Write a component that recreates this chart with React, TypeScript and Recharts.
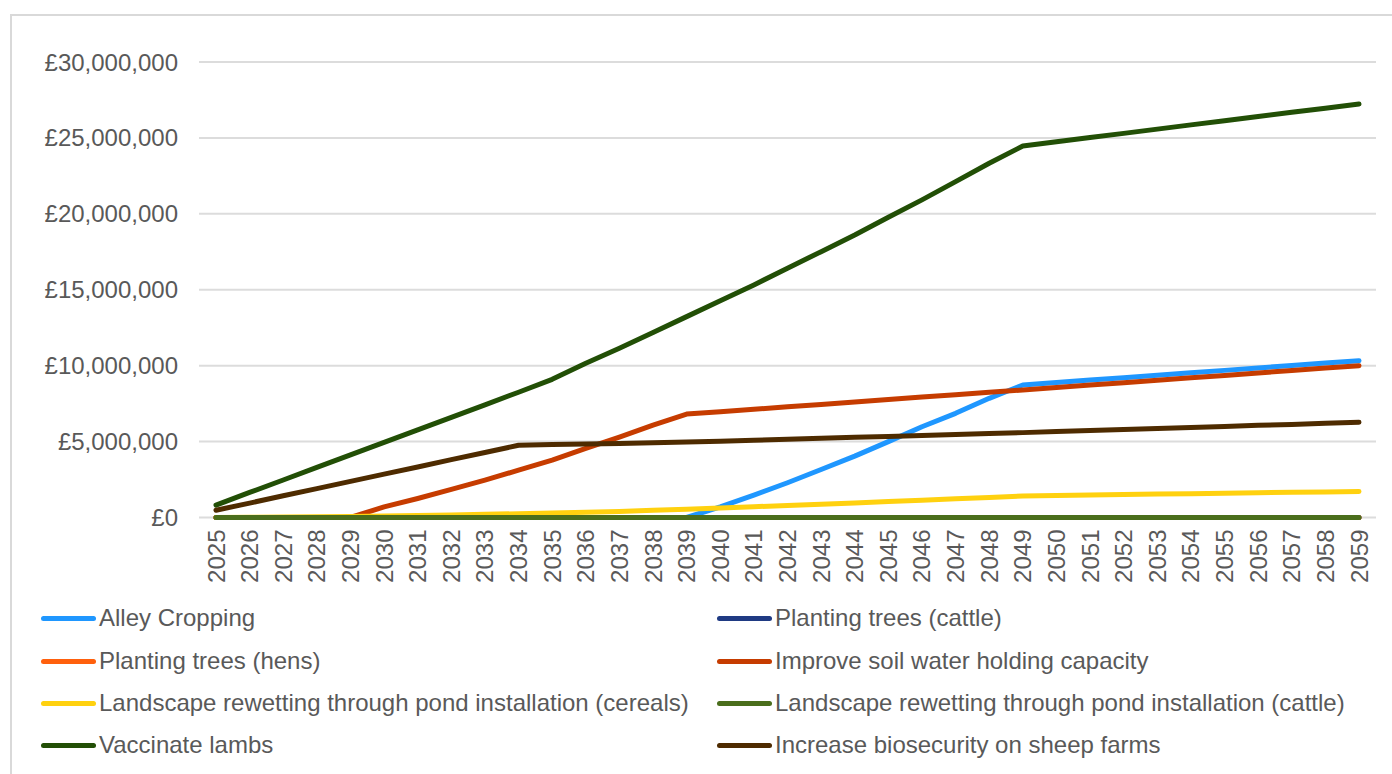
import { CartesianGrid, Line, LineChart, XAxis, YAxis } from 'recharts'

// Annual values in £ millions
const years = [
  '2025', '2026', '2027', '2028', '2029', '2030', '2031', '2032', '2033', '2034',
  '2035', '2036', '2037', '2038', '2039', '2040', '2041', '2042', '2043', '2044',
  '2045', '2046', '2047', '2048', '2049', '2050', '2051', '2052', '2053', '2054',
  '2055', '2056', '2057', '2058', '2059',
]

const alleyCropping = [
  0, 0, 0, 0, 0, 0, 0, 0, 0, 0,
  0, 0, 0, 0, 0, 0.7, 1.47, 2.29, 3.16, 4.04,
  5.0, 5.98, 6.86, 7.85, 8.73, 8.89, 9.05, 9.21, 9.37, 9.53,
  9.69, 9.85, 10.01, 10.17, 10.33,
]

const treesCattle = [
  0, 0, 0, 0, 0, 0, 0, 0, 0, 0,
  0, 0, 0, 0, 0, 0, 0, 0, 0, 0,
  0, 0, 0, 0, 0, 0, 0, 0, 0, 0,
  0, 0, 0, 0, 0,
]

const treesHens = [
  0, 0, 0, 0, 0, 0, 0, 0, 0, 0,
  0, 0, 0, 0, 0, 0, 0, 0, 0, 0,
  0, 0, 0, 0, 0, 0, 0, 0, 0, 0,
  0, 0, 0, 0, 0,
]

const soilWater = [
  0, 0, 0, 0, 0, 0.7, 1.25, 1.85, 2.46, 3.12,
  3.78, 4.55, 5.3, 6.09, 6.81, 6.97, 7.13, 7.29, 7.45, 7.61,
  7.77, 7.93, 8.09, 8.25, 8.4, 8.56, 8.72, 8.88, 9.04, 9.2,
  9.36, 9.52, 9.68, 9.84, 10.0,
]

const pondCereals = [
  0, 0.01, 0.03, 0.05, 0.07, 0.1, 0.13, 0.17, 0.21, 0.25,
  0.3, 0.35, 0.4, 0.47, 0.55, 0.63, 0.71, 0.79, 0.87, 0.96,
  1.05, 1.14, 1.23, 1.32, 1.42, 1.45, 1.48, 1.51, 1.54, 1.57,
  1.6, 1.63, 1.66, 1.68, 1.71,
]

const pondCattle = [
  0, 0, 0, 0, 0, 0, 0, 0, 0, 0,
  0, 0, 0, 0, 0, 0, 0, 0, 0, 0,
  0, 0, 0, 0, 0, 0, 0, 0, 0, 0,
  0, 0, 0, 0, 0,
]

const vaccinateLambs = [
  0.82, 1.65, 2.47, 3.3, 4.12, 4.95, 5.77, 6.6, 7.42, 8.25,
  9.1, 10.16, 11.15, 12.18, 13.23, 14.28, 15.32, 16.42, 17.51, 18.61,
  19.78, 20.92, 22.12, 23.33, 24.47, 24.75, 25.03, 25.3, 25.58, 25.86,
  26.13, 26.41, 26.69, 26.96, 27.23,
]

const sheepBiosecurity = [
  0.48, 0.95, 1.43, 1.9, 2.38, 2.86, 3.33, 3.81, 4.28, 4.76,
  4.8, 4.84, 4.88, 4.93, 4.97, 5.03, 5.09, 5.15, 5.22, 5.28,
  5.34, 5.4, 5.47, 5.53, 5.59, 5.66, 5.73, 5.8, 5.86, 5.93,
  6.0, 6.07, 6.13, 6.2, 6.27,
]

const yTicks = [0, 5000000, 10000000, 15000000, 20000000, 25000000, 30000000]

const series = [
  { key: 'alley', name: 'Alley Cropping', color: '#1F97FF', values: alleyCropping },
  { key: 'treesCattle', name: 'Planting trees (cattle)', color: '#1F3A83', values: treesCattle },
  { key: 'treesHens', name: 'Planting trees (hens)', color: '#FF600D', values: treesHens },
  { key: 'soil', name: 'Improve soil water holding capacity', color: '#C63C00', values: soilWater },
  { key: 'pondCereals', name: 'Landscape rewetting through pond installation (cereals)', color: '#FFD10F', values: pondCereals },
  { key: 'pondCattle', name: 'Landscape rewetting through pond installation (cattle)', color: '#4A6E1C', values: pondCattle },
  { key: 'lambs', name: 'Vaccinate lambs', color: '#224F06', values: vaccinateLambs },
  { key: 'biosecurity', name: 'Increase biosecurity on sheep farms', color: '#4E2B00', values: sheepBiosecurity },
]

const data = years.map((year, i) => {
  const row: Record<string, string | number> = { year }
  series.forEach((s) => {
    row[s.key] = s.values[i] * 1000000
  })
  return row
})

const FONT = '"Liberation Sans", Arial, sans-serif'
const TEXT = '#595959'

const formatPounds = (v: number) => `£${v.toLocaleString('en-GB')}`

function YearTick({ x, y, payload }: { x: number; y: number; payload: { value: string } }) {
  return (
    <text
      x={0}
      y={0}
      transform={`translate(${x},${y}) rotate(-90)`}
      textAnchor="end"
      dominantBaseline="central"
      fill={TEXT}
      fontSize={24}
      fontFamily={FONT}
    >
      {payload.value}
    </text>
  )
}

const legendRows = [618, 661, 703, 745]
const legendCols = [41, 717]

export default function App() {
  return (
    <div style={{ position: 'fixed', inset: 0, overflow: 'hidden', background: '#fff' }}>
      <div
        style={{
          position: 'absolute',
          left: 10,
          top: 14,
          width: 1420,
          height: 800,
          border: '2px solid #D9D9D9',
          boxSizing: 'border-box',
        }}
      />
      <div style={{ position: 'absolute', left: 0, top: 0 }}>
        <LineChart width={1392} height={774} data={data} margin={{ top: 62, right: 16, bottom: 186.5, left: 0 }}>
          <CartesianGrid vertical={false} stroke="#DCDCDC" strokeWidth={2} />
          <XAxis
            dataKey="year"
            interval={0}
            padding={{ left: 17, right: 17 }}
            axisLine={false}
            tickLine={false}
            tickSize={0}
            tickMargin={12}
            height={70}
            tick={YearTick}
          />
          <YAxis
            domain={[0, 30000000]}
            ticks={yTicks}
            tickFormatter={formatPounds}
            axisLine={false}
            tickLine={false}
            tickSize={0}
            tickMargin={21}
            width={199}
            tick={{ fill: TEXT, fontSize: 24, fontFamily: FONT }}
          />
          {series.map((s) => (
            <Line
              key={s.key}
              type="linear"
              dataKey={s.key}
              name={s.name}
              stroke={s.color}
              strokeWidth={5}
              strokeLinecap="round"
              strokeLinejoin="round"
              dot={false}
              activeDot={false}
              isAnimationActive={false}
            />
          ))}
        </LineChart>
      </div>
      {series.map((s, i) => (
        <div
          key={s.key}
          style={{
            position: 'absolute',
            left: legendCols[i % 2],
            top: legendRows[Math.floor(i / 2)] - 15,
            height: 30,
            display: 'flex',
            alignItems: 'center',
            whiteSpace: 'nowrap',
          }}
        >
          <div style={{ width: 55, height: 5, borderRadius: 3, background: s.color, marginRight: 3 }} />
          <span style={{ fontFamily: FONT, fontSize: 24, color: TEXT }}>{s.name}</span>
        </div>
      ))}
    </div>
  )
}
